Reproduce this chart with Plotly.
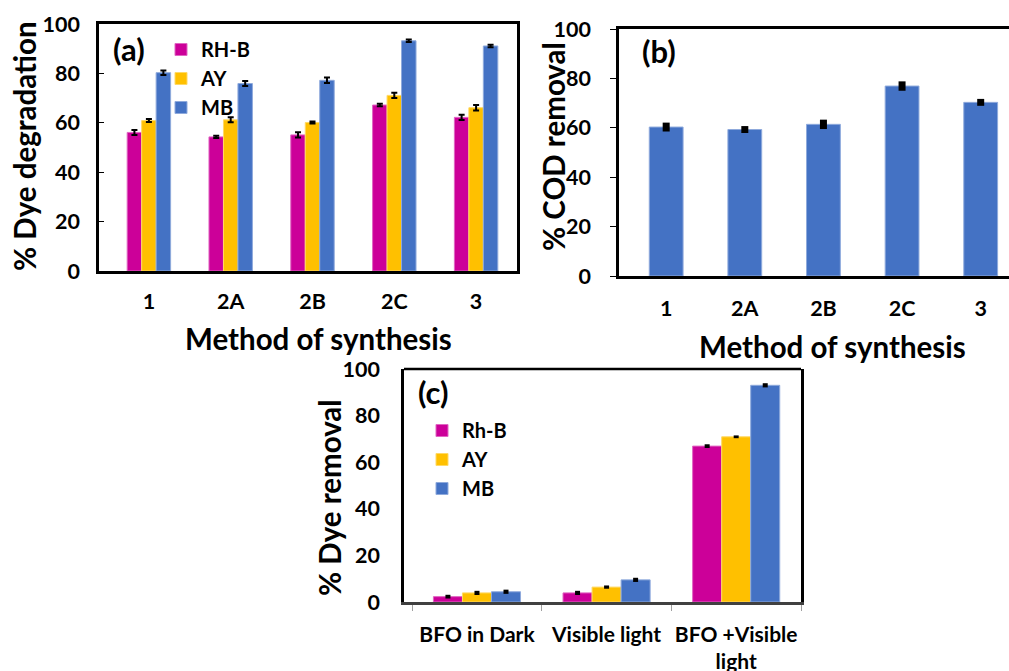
import plotly.graph_objects as go

# ---------------- data ----------------
methods = ["1", "2A", "2B", "2C", "3"]
a_rhb = [56.1, 54.3, 55.1, 67.2, 62.2]
a_ay = [60.9, 61.2, 60.1, 71.1, 66.1]
a_mb = [80.3, 75.9, 77.2, 93.2, 91.1]
a_rhb_err = [1.0, 0.5, 1.1, 0.5, 1.1]
a_ay_err = [0.6, 1.0, 0.4, 1.1, 1.1]
a_mb_err = [0.9, 1.0, 1.1, 0.5, 0.5]

cod = [60.3, 59.3, 61.4, 76.9, 70.3]
cod_err = [1.8, 1.4, 1.9, 1.9, 1.4]

conditions = ["BFO in Dark", "Visible light", "BFO +Visible<br>light"]
c_rhb = [2.3, 3.9, 66.9]
c_ay = [3.9, 6.4, 70.9]
c_mb = [4.4, 9.5, 93.0]
c_rhb_err = [0.8, 0.9, 0.8]
c_ay_err = [0.9, 0.7, 0.6]
c_mb_err = [0.9, 0.9, 0.9]

yticks = [0, 20, 40, 60, 80, 100]

# ---------------- style ----------------
C_RHB = "#CC0099"
C_AY = "#FFC000"
C_MB = "#4472C4"
FONT = "Lato"
W, H = 1009, 671


def px_x(p):
    return p / W


def px_y(p):
    return 1 - p / H


fig = go.Figure()


def err(vals, thick, width):
    return dict(type="data", array=vals, visible=True, color="black",
                thickness=thick, width=width)


# Panel (a)
wa = 0.177
for i, (name, vals, e, col, edge) in enumerate([
        ("RH-B", a_rhb, a_rhb_err, C_RHB, "#E066C2"),
        ("AY", a_ay, a_ay_err, C_AY, "#FFD966"),
        ("MB", a_mb, a_mb_err, C_MB, "#8FAADC")]):
    fig.add_trace(go.Bar(x=methods, y=vals, name=name, width=wa,
                         offset=-1.5 * wa + i * wa,
                         marker=dict(color=col, line=dict(color=edge, width=1)),
                         error_y=err(e, 2, 3),
                         xaxis="x", yaxis="y", legend="legend"))

# Panel (b)
fig.add_trace(go.Bar(x=methods, y=cod, width=0.43, showlegend=False,
                     marker=dict(color=C_MB, line=dict(color="#8FAADC", width=1)),
                     error_y=err(cod_err, 7, 0),
                     xaxis="x2", yaxis="y2"))

# Panel (c)
wc = 0.224
for i, (name, vals, e, col, edge) in enumerate([
        ("Rh-B", c_rhb, c_rhb_err, C_RHB, "#E066C2"),
        ("AY", c_ay, c_ay_err, C_AY, "#FFD966"),
        ("MB", c_mb, c_mb_err, C_MB, "#8FAADC")]):
    fig.add_trace(go.Bar(x=conditions, y=vals, name=name, width=wc,
                         offset=-1.5 * wc + i * wc,
                         marker=dict(color=col, line=dict(color=edge, width=1)),
                         error_y=err(e, 5, 0),
                         xaxis="x3", yaxis="y3", legend="legend2"))

tickfont = dict(family=FONT, size=21.5, color="black", weight="bold")
legfont = dict(family=FONT, size=20, color="black", weight="bold")

common = dict(automargin=False, showgrid=False)

fig.update_layout(
    width=W, height=H,
    margin=dict(l=0, r=0, t=0, b=0, autoexpand=False),
    paper_bgcolor="white", plot_bgcolor="white",
    barmode="overlay",
    font=dict(family=FONT, color="black"),
    xaxis=dict(domain=[px_x(99), px_x(517)], anchor="y", type="category",
               range=[-0.61, 4.5], showline=True, linecolor="black", linewidth=2.5,
               mirror=True, ticks="", tickfont=tickfont, ticklabelstandoff=9,
               tickangle=0, **common),
    yaxis=dict(domain=[px_y(271), px_y(24)], anchor="x", range=[0, 100],
               tickvals=yticks, showline=True, linecolor="black", linewidth=2.5,
               mirror=True, ticks="inside", ticklen=5, tickcolor="black",
               tickfont=tickfont, ticklabelstandoff=12, zeroline=False, **common),
    xaxis2=dict(domain=[px_x(619), 1.0], anchor="y2", type="category",
                range=[-0.6, 4.36], showline=True, linecolor="black", linewidth=2.5,
                mirror=True, ticks="", tickfont=tickfont, ticklabelstandoff=11,
                tickangle=0, **common),
    yaxis2=dict(domain=[px_y(276), px_y(29)], anchor="x2", range=[0, 100],
                tickvals=yticks, showline=True, linecolor="black", linewidth=2.5,
                ticks="outside", ticklen=6, tickcolor="black",
                tickfont=tickfont, ticklabelstandoff=15, zeroline=False, **common),
    xaxis3=dict(domain=[px_x(404), px_x(801)], anchor="y3", type="category",
                range=[-0.563, 2.5], showline=True, linecolor="#404040", linewidth=2.5,
                mirror=False, ticks="outside", tickson="boundaries", ticklen=6,
                tickcolor="#A0A0A0", tickwidth=1, tickangle=0,
                tickfont=dict(family=FONT, size=21, color="black", weight="bold"),
                ticklabelstandoff=12, **common),
    yaxis3=dict(domain=[px_y(602), px_y(369)], anchor="x3", range=[0, 100],
                tickvals=yticks, showline=True, linecolor="black", linewidth=2.5,
                mirror=True, ticks="",
                tickfont=tickfont, ticklabelstandoff=17, zeroline=False, **common),
    legend=dict(x=px_x(161), y=px_y(30), xanchor="left", yanchor="top",
                bgcolor="rgba(0,0,0,0)", tracegroupgap=0,
                font=legfont, itemwidth=30),
    legend2=dict(x=px_x(422), y=px_y(411), xanchor="left", yanchor="top",
                 bgcolor="rgba(0,0,0,0)", tracegroupgap=0,
                 font=legfont, itemwidth=30),
)

titlefont = dict(family=FONT, size=29.5, color="black", weight="bold")
labelfont = dict(family=FONT, size=31, color="black", weight="bold")

annotations = [
    dict(text="% Dye degradation", x=px_x(24), y=px_y(146), textangle=-90, font=titlefont),
    dict(text="Method of synthesis", x=px_x(318), y=px_y(338), font=titlefont),
    dict(text="% COD removal", x=px_x(553), y=px_y(147), textangle=-90, font=titlefont),
    dict(text="Method of synthesis", x=px_x(832), y=px_y(346), font=titlefont),
    dict(text="% Dye removal", x=px_x(330), y=px_y(498), textangle=-90, font=titlefont),
    dict(text="(a)", x=px_x(129), y=px_y(49), font=labelfont),
    dict(text="(b)", x=px_x(659), y=px_y(51), font=labelfont),
    dict(text="(c)", x=px_x(433), y=px_y(392), font=labelfont),
]
for a in annotations:
    a.update(xref="paper", yref="paper", showarrow=False, xanchor="center", yanchor="middle")
fig.update_layout(annotations=annotations)

# top border for panel (c)
fig.add_shape(type="line", xref="paper", yref="paper",
              x0=px_x(404), x1=px_x(801), y0=px_y(369), y1=px_y(369),
              line=dict(color="black", width=2.5))

fig.write_html("out.html")
